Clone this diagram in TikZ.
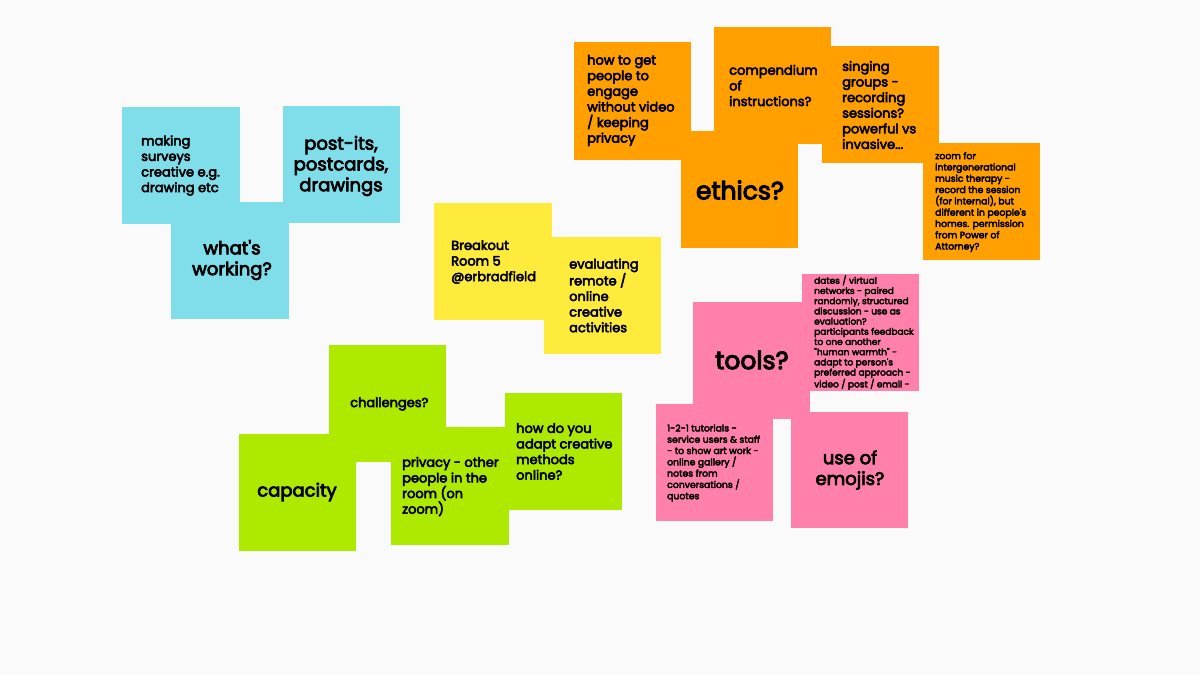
\documentclass[tikz,border=0pt]{standalone}
\usepackage{fontspec}
\setmainfont{Poppins}[FakeBold=4]
\usetikzlibrary{positioning}
\definecolor{board}{HTML}{FAFAFA}
\definecolor{stickyblue}{HTML}{80DEEA}
\definecolor{stickyyellow}{HTML}{FFEB3B}
\definecolor{stickygreen}{HTML}{AEEA00}
\definecolor{stickyorange}{HTML}{FFA000}
\definecolor{stickypink}{HTML}{FF80AB}

\begin{document}
\begin{tikzpicture}[x=1pt,y=-1pt,
  txt/.style={align=left,anchor=west,inner sep=0pt,text=black},
  big/.style={align=center,inner sep=0pt,text=black},
  fmid/.style={font=\fontsize{13}{15.6}\selectfont},
  fsmall/.style={font=\fontsize{9.3}{11.3}\selectfont},
  ftiny/.style={font=\fontsize{9}{10.2}\selectfont},
  fhead/.style={font=\fontsize{18}{20.8}\selectfont},
  fhuge/.style={font=\fontsize{25}{28}\selectfont}]
  \fill[board] (0,0) rectangle (1200,675);
  \useasboundingbox (0,0) rectangle (1200,675);
  % what's working
  \fill[stickyblue] (171,202) rectangle (289,319);
  \fill[stickyblue] (122,107) rectangle (240,224);
  \fill[stickyblue] (283,106) rectangle (400,223);
  \node[txt,fmid] (surveys) at (141,165.5) {making\\surveys\\creative e.g.\\drawing etc};
  \node[big,fhead] (postits) at (341,166) {post-its,\\postcards,\\drawings};
  \node[big,fhead] (working) at (232,260) {what\textquotesingle s\\working?};
  % breakout room
  \fill[stickyyellow] (434,203) rectangle (552,320);
  \fill[stickyyellow] (544,237) rectangle (661,354);
  \node[txt,fmid] (room) at (451,262) {Breakout\\Room 5\\@erbradfield};
  \node[txt,fmid] (evaluating) at (569,295.5) {evaluating\\remote /\\online\\creative\\activities};
  % ethics
  \fill[stickyorange] (574,42) rectangle (691,160);
  \fill[stickyorange] (714,27) rectangle (831,144);
  \fill[stickyorange] (681,131) rectangle (798,248);
  \fill[stickyorange] (822,46) rectangle (939,163);
  \fill[stickyorange] (923,143) rectangle (1040,260);
  \node[txt,fmid] (engage) at (587,100.5) {how to get\\people to\\engage\\without video\\/ keeping\\privacy};
  \node[txt,fmid] (compendium) at (729,85.5) {compendium\\of\\instructions?};
  \node[txt,fmid] (singing) at (842,105) {singing\\groups -\\recording\\sessions?\\powerful vs\\invasive...};
  \node[big,fhuge] (ethics) at (740,190) {ethics?};
  \node[txt,fsmall] (intergen) at (935,202) {zoom for\\intergenerational\\music therapy -\\record the session\\(for internal), but\\different in people\textquotesingle s\\homes. permission\\from Power of\\Attorney?};
  % tools
  \fill[stickypink] (693,302) rectangle (810,419);
  \fill[stickypink] (802,274) rectangle (919,391);
  \fill[stickypink] (656,404) rectangle (773,521);
  \fill[stickypink] (791,412) rectangle (908,528);
  \node[big,fhuge] (tools) at (752,360) {tools?};
  \begin{scope}
    \clip (802,274) rectangle (919,391);
    \node[txt,ftiny] (dates) at (814,332.5) {dates / virtual\\networks - paired\\randomly, structured\\discussion - use as\\evaluation?\\participants feedback\\to one another\\\textquotedbl human warmth\textquotedbl{} -\\adapt to person\textquotesingle s\\preferred approach -\\video / post / email -};
  \end{scope}
  \node[txt,fsmall] (tutorials) at (667,463) {1-2-1 tutorials -\\service users \& staff\\- to show art work -\\online gallery /\\notes from\\conversations /\\quotes};
  \node[big,fhead] (emojis) at (850,470) {use of\\emojis?};
  % challenges
  \fill[stickygreen] (329,345) rectangle (446,462);
  \fill[stickygreen] (239,434) rectangle (356,551);
  \fill[stickygreen] (391,427) rectangle (509,545);
  \fill[stickygreen] (505,393) rectangle (622,510);
  \node[txt,fmid] (challenges) at (350,404) {challenges?};
  \node[big,fhead] (capacity) at (297,492) {capacity};
  \node[txt,fmid] (privacy) at (402,486.5) {privacy - other\\people in the\\room (on\\zoom)};
  \node[txt,fmid] (adapt) at (516,451.5) {how do you\\adapt creative\\methods\\online?};
\end{tikzpicture}
\end{document}
